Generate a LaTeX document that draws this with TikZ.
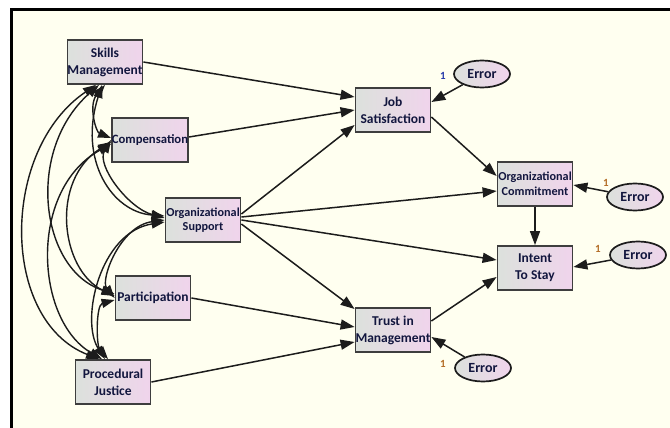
\documentclass[tikz,border=0pt]{standalone}
\usepackage{fontspec}
\setmainfont{Carlito}
\usetikzlibrary{arrows.meta,shapes.geometric,calc}
\definecolor{bgc}{RGB}{255,255,240}
\definecolor{boxl}{RGB}{220,225,220}
\definecolor{boxr}{RGB}{240,212,236}
\definecolor{txt}{RGB}{18,22,62}
\definecolor{lnc}{RGB}{28,28,28}
\definecolor{onec}{RGB}{180,110,40}
\definecolor{oneb}{RGB}{40,60,170}
\begin{document}
\begin{tikzpicture}[x=1pt,y=-1pt,
  var/.style={draw=lnc!85, line width=1.8pt, left color=boxl, right color=boxr,
    minimum width=75pt, minimum height=44pt, inner sep=0pt, align=center,
    font=\bfseries\fontsize{13.5}{17}\selectfont, text=txt},
  err/.style={ellipse, draw=lnc, line width=1.7pt, left color=boxl, right color=boxr,
    minimum width=56pt, minimum height=27pt, inner sep=0pt,
    font=\bfseries\fontsize{14}{16}\selectfont, text=txt},
  arr/.style={draw=lnc, line width=1.5pt, -{Triangle[length=14pt,width=10pt]}},
  cov/.style={draw=lnc, line width=1.4pt, {Triangle[length=13pt,width=9pt]}-{Triangle[length=13pt,width=9pt]}},
  one/.style={font=\bfseries\fontsize{11}{12}\selectfont, text=onec}]
% frame and background
\fill[white] (0,0) rectangle (670,428);
\useasboundingbox (0,0) rectangle (670,428);
\fill[bgc] (11,10) rectangle (670,428);
\draw[gray!70, line width=0.6pt] (10,8) -- (670,8);
\draw[black, line width=3pt] (10,10) -- (670,10);
\draw[black, line width=3pt] (11.5,10) -- (11.5,428);
% exogenous
\node[var] (SM) at (105,62) {Skills\\Management};
\node[var, font=\bfseries\fontsize{12.7}{15}\selectfont] (Comp) at (150,140) {Compensation};
\node[var, font=\bfseries\fontsize{12.2}{15}\selectfont] (OS) at (203,220) {Organizational\\[-1pt]Support};
\node[var] (Part) at (153,298) {Participation};
\node[var] (PJ) at (113,382) {Procedural\\Justice};
% endogenous
\node[var] (JS) at (393,110) {Job\\Satisfaction};
\node[var, font=\bfseries\fontsize{12.2}{15}\selectfont] (OC) at (535,184) {Organizational\\Commitment};
\node[var] (ITS) at (535,268) {Intent\\To Stay};
\node[var] (TM) at (393,330) {Trust in\\Management};
% errors
\node[err] (E1) at (482,74) {Error};
\node[err] (E2) at (635,197) {Error};
\node[err] (E3) at (638,255) {Error};
\node[err] (E4) at (483,368) {Error};
% regression paths
\draw[arr] (SM.east) -- ($(JS.west)+(0,-13)$);
\draw[arr] ($(Comp.east)+(0,-3)$) -- (JS.west);
\draw[arr] ($(OS.east)+(0,-6)$) -- ($(JS.west)+(0,15)$);
\draw[arr] ($(OS.east)+(0,-3)$) -- ($(OC.west)+(0,7)$);
\draw[arr] (OS.east) -- ($(ITS.west)+(0,-8)$);
\draw[arr] ($(OS.east)+(0,4)$) -- ($(TM.west)+(0,-21)$);
\draw[arr] (Part.east) -- ($(TM.west)+(0,-3)$);
\draw[arr] (PJ.east) -- ($(TM.west)+(0,12)$);
\draw[arr] ($(JS.east)+(0,7)$) -- ($(OC.west)+(0,-8)$);
\draw[arr] (OC.south) -- (ITS.north);
\draw[arr] ($(TM.east)+(0,-9)$) -- ($(ITS.west)+(0,9)$);
% error paths
\coordinate (e1t) at ($(JS.east)+(0,-8)$);
\coordinate (e2t) at ($(OC.east)+(0,1)$);
\coordinate (e3t) at ($(ITS.east)+(0,-1)$);
\coordinate (e4t) at ($(TM.east)+(0,7)$);
\draw[arr] (E1) -- (e1t);
\draw[arr] (E2) -- (e2t);
\draw[arr] (E3) -- (e3t);
\draw[arr] (E4) -- (e4t);
\node[one, text=oneb] (n1) at (443,76) {1};
\node[one] (n2) at (606,183) {1};
\node[one] (n3) at (598,249) {1};
\node[one] (n4) at (443,364) {1};
% covariances
\coordinate (sm1) at ($(SM.south)+(-9,0)$);
\coordinate (sm2) at ($(SM.south)+(-6,0)$);
\coordinate (sm3) at ($(SM.south)+(-3,0)$);
\coordinate (sm4) at ($(SM.south)+(0,0)$);
\coordinate (c1) at ($(Comp.west)+(0,-2)$);
\coordinate (c2) at ($(Comp.west)+(0,0)$);
\coordinate (c3) at ($(Comp.west)+(0,2)$);
\coordinate (c4) at ($(Comp.west)+(0,4)$);
\coordinate (o1) at ($(OS.west)+(0,-4)$);
\coordinate (o2) at ($(OS.west)+(0,-2)$);
\coordinate (o3) at ($(OS.west)+(0,0)$);
\coordinate (o4) at ($(OS.west)+(0,2)$);
\coordinate (p1) at ($(Part.west)+(0,-4)$);
\coordinate (p2) at ($(Part.west)+(0,-2)$);
\coordinate (p3) at ($(Part.west)+(0,0)$);
\coordinate (p4) at ($(Part.west)+(0,2)$);
\coordinate (j1) at ($(PJ.north)+(-14,0)$);
\coordinate (j2) at ($(PJ.north)+(-11,0)$);
\coordinate (j3) at ($(PJ.north)+(-8,0)$);
\coordinate (j4) at ($(PJ.north)+(-5,0)$);
\draw[cov] (sm4) .. controls (88,105) and (96,132) .. (c1);
\draw[cov] (sm3) .. controls (78,160) and (112,212) .. (o1);
\draw[cov] (sm2) .. controls (25,150) and (40,270) .. (p1);
\draw[cov] (sm1) .. controls (0,150) and (0,320) .. (j1);
\draw[cov] (c2) .. controls (96,165) and (128,208) .. (o2);
\draw[cov] (c3) .. controls (50,180) and (60,270) .. (p2);
\draw[cov] (c4) .. controls (28,190) and (35,320) .. (j2);
\draw[cov] (o3) .. controls (120,226) and (100,280) .. (p3);
\draw[cov] (o4) .. controls (100,232) and (80,320) .. (j3);
\draw[cov] (p4) .. controls (96,305) and (96,345) .. (j4);
\end{tikzpicture}
\end{document}
